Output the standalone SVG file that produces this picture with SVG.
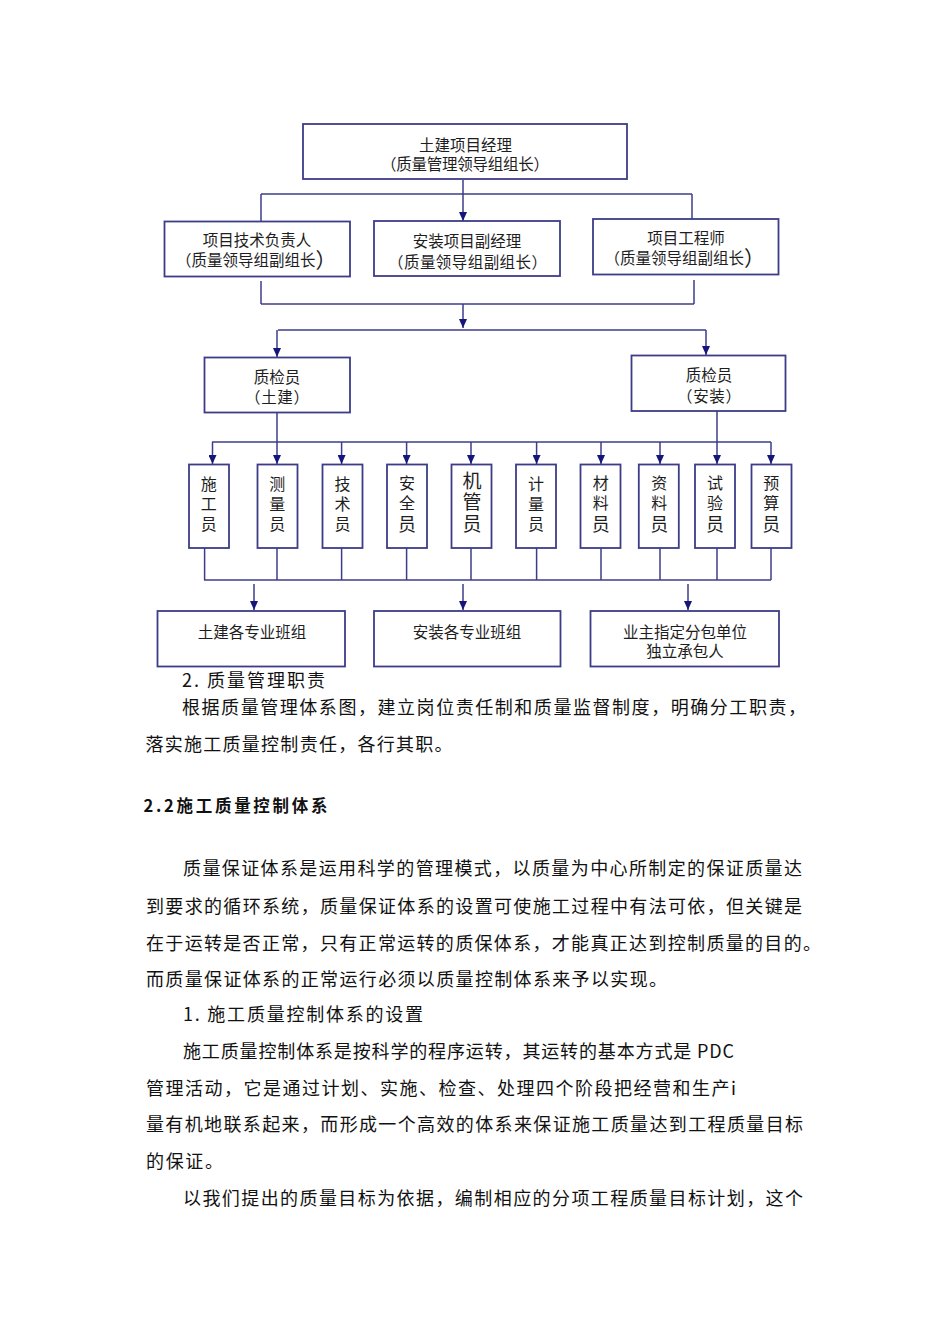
<svg xmlns="http://www.w3.org/2000/svg" width="950" height="1344" viewBox="0 0 950 1344">
<defs>
<marker id="arr" viewBox="0 0 9 8" refX="9" refY="4" markerWidth="9" markerHeight="8" markerUnits="userSpaceOnUse" orient="auto">
<path d="M0,0 L9,4 L0,8 Z" fill="#16167a"/>
</marker>
<style>
.box{fill:#ffffff;stroke:#3c3c88;stroke-width:1.8}
.ln{stroke:#3c3c8a;stroke-width:1.5;fill:none}
.ar{stroke:#3c3c8a;stroke-width:1.5;fill:none;marker-end:url(#arr)}
.t{font-family:"Noto Sans CJK SC","Noto Sans CJK JP",sans-serif;font-size:15.5px;fill:#1e1e1e;text-anchor:middle;dominant-baseline:central}
.ts{font-family:"Noto Sans CJK SC","Noto Sans CJK JP",sans-serif;font-size:15.5px;fill:#1e1e1e;dominant-baseline:central}
.v{font-family:"Noto Sans CJK SC","Noto Sans CJK JP",sans-serif;font-size:16px;fill:#1e1e1e;writing-mode:vertical-rl;text-anchor:start;letter-spacing:4px}
.v2{font-family:"Noto Sans CJK SC","Noto Sans CJK JP",sans-serif;font-size:19px;fill:#1e1e1e;writing-mode:vertical-rl;text-anchor:start;letter-spacing:2.5px}
.p{font-family:"Noto Sans CJK SC","Noto Sans CJK JP",sans-serif;font-size:18px;fill:#111;dominant-baseline:central}
.h{font-family:"Noto Sans CJK SC","Noto Sans CJK JP",sans-serif;font-size:16.5px;font-weight:bold;fill:#111;dominant-baseline:central}
</style>
</defs>
<rect width="950" height="1344" fill="#ffffff"/>

<g id="connectors">
<line class="ar" x1="463" y1="180" x2="463" y2="221"/>
<line class="ln" x1="261" y1="194" x2="692" y2="194"/>
<line class="ln" x1="261" y1="194" x2="261" y2="221"/>
<line class="ln" x1="692" y1="194" x2="692" y2="219"/>
<line class="ln" x1="261" y1="281" x2="261" y2="304"/>
<line class="ln" x1="694" y1="280" x2="694" y2="304"/>
<line class="ln" x1="261" y1="304" x2="694" y2="304"/>
<line class="ar" x1="463" y1="304" x2="463" y2="328"/>
<line class="ln" x1="278" y1="330" x2="706" y2="330"/>
<line class="ar" x1="277" y1="330" x2="277" y2="357"/>
<line class="ar" x1="706" y1="330" x2="706" y2="355"/>
<line class="ln" x1="277" y1="413" x2="277" y2="442"/>
<line class="ln" x1="717" y1="411" x2="717" y2="442"/>
<line class="ln" x1="212" y1="442" x2="771" y2="442"/>
<line class="ar" x1="212.5" y1="442" x2="212.5" y2="464"/>
<line class="ar" x1="277" y1="442" x2="277" y2="464"/>
<line class="ar" x1="341.6" y1="442" x2="341.6" y2="464"/>
<line class="ar" x1="406.6" y1="442" x2="406.6" y2="464"/>
<line class="ar" x1="471" y1="442" x2="471" y2="464"/>
<line class="ar" x1="536.6" y1="442" x2="536.6" y2="464"/>
<line class="ar" x1="601" y1="442" x2="601" y2="464"/>
<line class="ar" x1="660" y1="442" x2="660" y2="464"/>
<line class="ar" x1="717" y1="442" x2="717" y2="464"/>
<line class="ar" x1="771" y1="442" x2="771" y2="464"/>
<line class="ln" x1="204.6" y1="548" x2="204.6" y2="580"/>
<line class="ln" x1="277" y1="548" x2="277" y2="580"/>
<line class="ln" x1="341.6" y1="548" x2="341.6" y2="580"/>
<line class="ln" x1="406.6" y1="548" x2="406.6" y2="580"/>
<line class="ln" x1="471" y1="548" x2="471" y2="580"/>
<line class="ln" x1="536.6" y1="548" x2="536.6" y2="580"/>
<line class="ln" x1="601" y1="548" x2="601" y2="580"/>
<line class="ln" x1="660" y1="548" x2="660" y2="580"/>
<line class="ln" x1="717" y1="548" x2="717" y2="580"/>
<line class="ln" x1="771" y1="548" x2="771" y2="580"/>
<line class="ln" x1="204" y1="580" x2="771" y2="580"/>
<line class="ar" x1="254" y1="584" x2="254" y2="610"/>
<line class="ar" x1="463" y1="584" x2="463" y2="610"/>
<line class="ar" x1="688" y1="584" x2="688" y2="610"/>
</g>

<g id="n-top">
<rect class="box" x="303" y="124" width="324" height="55"/>
<text class="t" x="465.5" y="143.5">土建项目经理</text>
<text class="ts" x="381" y="163" textLength="168" lengthAdjust="spacing">（质量管理领导组组长）</text>
</g>

<g id="n-tech">
<rect class="box" x="164.5" y="221.5" width="185.5" height="55"/>
<text class="t" x="257" y="238.5">项目技术负责人</text>
<text class="ts" x="176" y="258.5">（质量领导组副组长<tspan font-size="21">）</tspan></text>
</g>

<g id="n-install">
<rect class="box" x="374" y="221" width="186" height="55"/>
<text class="t" x="467" y="239.5">安装项目副经理</text>
<text class="ts" x="388" y="260.5" textLength="159" lengthAdjust="spacing">（质量领导组副组长）</text>
</g>

<g id="n-engineer">
<rect class="box" x="593" y="219" width="185.5" height="55.5"/>
<text class="t" x="686" y="237">项目工程师</text>
<text class="ts" x="604.5" y="257">（质量领导组副组长<tspan font-size="21">）</tspan></text>
</g>

<g id="n-qc-civil">
<rect class="box" x="204.5" y="357.5" width="145.5" height="55"/>
<text class="t" x="277" y="375.5">质检员</text>
<text class="ts" x="245" y="396" textLength="64" lengthAdjust="spacing">（土建）</text>
</g>

<g id="n-qc-install">
<rect class="box" x="631.5" y="355.5" width="154" height="55.5"/>
<text class="t" x="709" y="374">质检员</text>
<text class="ts" x="677" y="395" textLength="64" lengthAdjust="spacing">（安装）</text>
</g>

<g id="n-w1">
<rect class="box" x="189" y="464.5" width="40" height="83.5"/>
<text class="v" x="208.7" y="475.5">施工员</text>
</g>
<g id="n-w2">
<rect class="box" x="257.5" y="464.5" width="40" height="83.5"/>
<text class="v" x="277.3" y="475.5">测量员</text>
</g>
<g id="n-w3">
<rect class="box" x="322.5" y="464.5" width="40" height="83.5"/>
<text class="v" x="342.5" y="475.5">技术员</text>
</g>
<g id="n-w4">
<rect class="box" x="387" y="464.5" width="40" height="83.5"/>
<text class="v" x="407" y="475">安全<tspan font-size="18">员</tspan></text>
</g>
<g id="n-w5">
<rect class="box" x="451.5" y="464.5" width="40" height="83.5"/>
<text class="v2" x="472" y="471">机管员</text>
</g>
<g id="n-w6">
<rect class="box" x="516" y="464.5" width="40" height="83.5"/>
<text class="v" x="536" y="475.5">计量员</text>
</g>
<g id="n-w7">
<rect class="box" x="580.5" y="464.5" width="40" height="83.5"/>
<text class="v" x="600.8" y="475">材料<tspan font-size="18">员</tspan></text>
</g>
<g id="n-w8">
<rect class="box" x="638.8" y="464.5" width="40" height="83.5"/>
<text class="v" x="659.3" y="475">资料<tspan font-size="18">员</tspan></text>
</g>
<g id="n-w9">
<rect class="box" x="695" y="464.5" width="40" height="83.5"/>
<text class="v" x="715" y="475">试验<tspan font-size="18">员</tspan></text>
</g>
<g id="n-w10">
<rect class="box" x="751.5" y="464.5" width="40" height="83.5"/>
<text class="v" x="771.3" y="475">预算<tspan font-size="18">员</tspan></text>
</g>

<g id="n-team-civil">
<rect class="box" x="157.5" y="611" width="187.5" height="55.5"/>
<text class="t" x="252" y="630.5">土建各专业班组</text>
</g>
<g id="n-team-install">
<rect class="box" x="374" y="611" width="186.5" height="55.5"/>
<text class="t" x="467" y="630.5">安装各专业班组</text>
</g>
<g id="n-subcontract">
<rect class="box" x="590.5" y="611" width="188.5" height="55.5"/>
<text class="t" x="685" y="630.5">业主指定分包单位</text>
<text class="t" x="685" y="650">独立承包人</text>
</g>

<g id="body-text">
<text class="p" x="182" y="678.5" textLength="143" lengthAdjust="spacing">2. 质量管理职责</text>
<text class="p" x="182" y="706" textLength="624" lengthAdjust="spacing">根据质量管理体系图，建立岗位责任制和质量监督制度，明确分工职责，</text>
<text class="p" x="145.5" y="743" textLength="307" lengthAdjust="spacing">落实施工质量控制责任，各行其职。</text>
<text class="h" x="143.5" y="805" textLength="184" lengthAdjust="spacing">2.2施工质量控制体系</text>
<text class="p" x="183" y="867" textLength="619" lengthAdjust="spacing">质量保证体系是运用科学的管理模式，以质量为中心所制定的保证质量达</text>
<text class="p" x="146" y="904.5" textLength="656" lengthAdjust="spacing">到要求的循环系统，质量保证体系的设置可使施工过程中有法可依，但关键是</text>
<text class="p" x="146" y="941.5" textLength="675" lengthAdjust="spacing">在于运转是否正常，只有正常运转的质保体系，才能真正达到控制质量的目的。</text>
<text class="p" x="146" y="978" textLength="521" lengthAdjust="spacing">而质量保证体系的正常运行必须以质量控制体系来予以实现。</text>
<text class="p" x="183" y="1013" textLength="240" lengthAdjust="spacing">1. 施工质量控制体系的设置</text>
<text class="p" x="183" y="1050" textLength="551" lengthAdjust="spacing">施工质量控制体系是按科学的程序运转，其运转的基本方式是 PDC</text>
<text class="p" x="146" y="1086.5" textLength="590" lengthAdjust="spacing">管理活动，它是通过计划、实施、检查、处理四个阶段把经营和生产i</text>
<text class="p" x="146" y="1123" textLength="657" lengthAdjust="spacing">量有机地联系起来，而形成一个高效的体系来保证施工质量达到工程质量目标</text>
<text class="p" x="146" y="1160" textLength="77" lengthAdjust="spacing">的保证。</text>
<text class="p" x="183" y="1196.5" textLength="620" lengthAdjust="spacing">以我们提出的质量目标为依据，编制相应的分项工程质量目标计划，这个</text>
</g>
</svg>
